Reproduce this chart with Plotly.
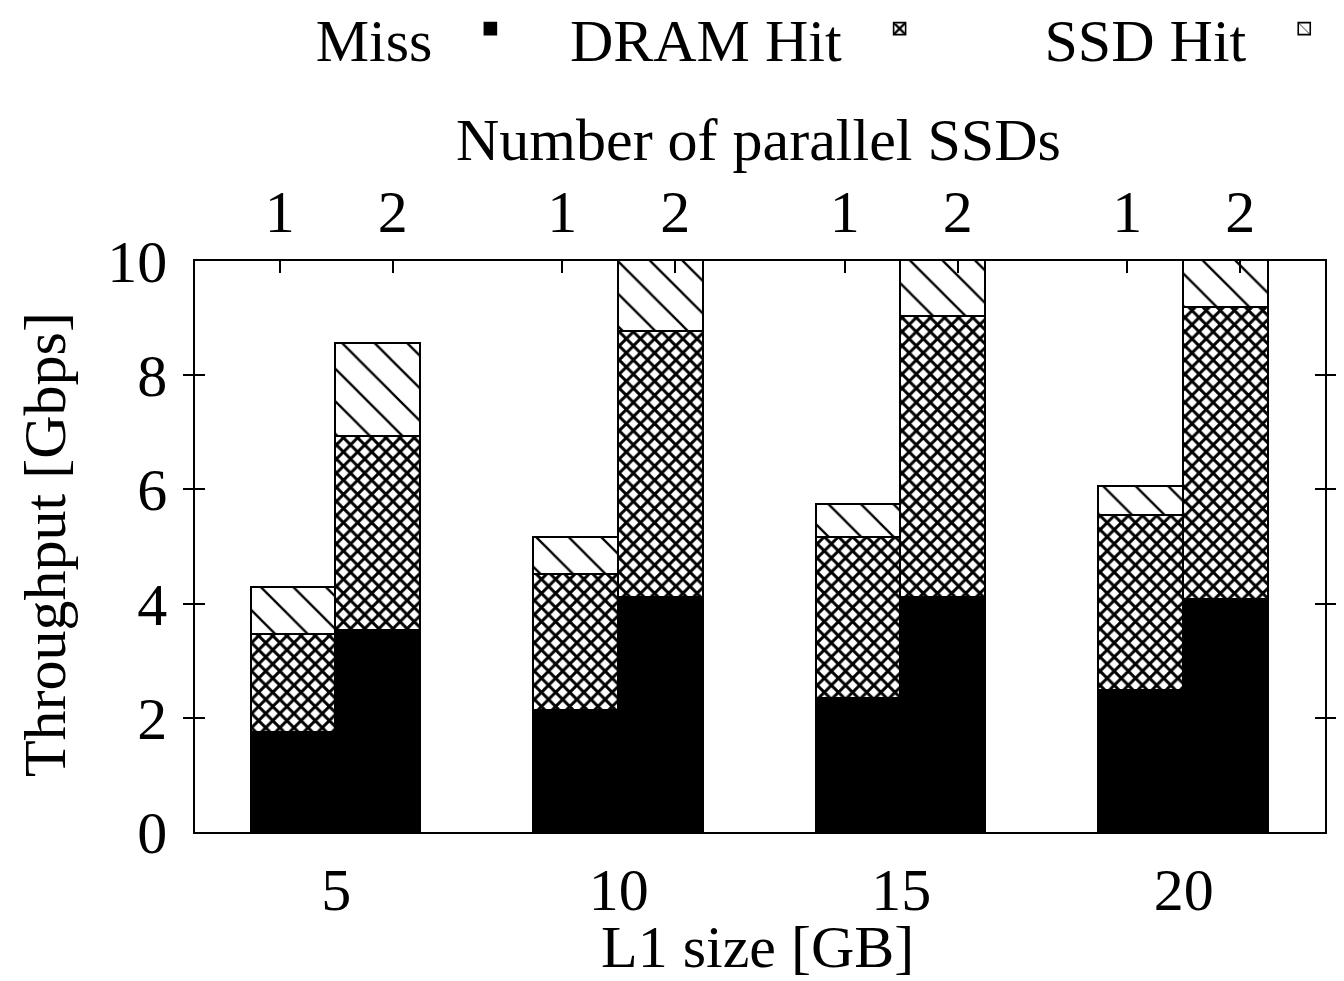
import plotly.graph_objects as go

# ---- data ----
l1_sizes = ["5", "10", "15", "20"]
ssd_counts = ["1", "2"]
# values per bar, ordered (5GB,1), (5GB,2), (10GB,1), (10GB,2), ...
miss = [1.73, 3.52, 2.12, 4.10, 2.33, 4.10, 2.47, 4.06]
dram_hit = [1.72, 3.40, 2.38, 4.66, 2.82, 4.92, 3.06, 5.12]
ssd_hit = [0.82, 1.63, 0.65, 1.50, 0.58, 1.40, 0.51, 1.30]

FONT = "Liberation Serif"
FS = 60

n_groups = len(l1_sizes)
n_sub = len(ssd_counts)
bar_w = 0.3
xs = []
top_tickvals = []
top_ticktext = []
for g in range(n_groups):
    for k in range(n_sub):
        xs.append(g + (k - (n_sub - 1) / 2) * bar_w)
        top_tickvals.append(g + (k - (n_sub - 1) / 2) * 0.4)
        top_ticktext.append(ssd_counts[k])

line = dict(color="black", width=1.6)
fig = go.Figure()
fig.add_trace(go.Bar(x=xs, y=miss, width=bar_w, name="", legend="legend",
                     marker=dict(color="black", line=line)))
fig.add_trace(go.Bar(x=xs, y=dram_hit, width=bar_w, name="", legend="legend2",
                     marker=dict(color="white", line=line,
                                 pattern=dict(shape="x", fgcolor="black", bgcolor="white",
                                              fgopacity=1, size=10, solidity=0.5))))
fig.add_trace(go.Bar(x=xs, y=ssd_hit, width=bar_w, name="", legend="legend3",
                     marker=dict(color="white", line=line,
                                 pattern=dict(shape="\\", fgcolor="black", bgcolor="white",
                                              fgopacity=1, size=23, solidity=0.1))))

tf = dict(family=FONT, size=FS, color="black")
axis_common = dict(showline=True, linecolor="black", linewidth=1.6,
                   tickfont=tf, showgrid=False, zeroline=False, automargin=False)

NB = "\u00a0"

def leg(title, x):
    return dict(x=x, y=0.979, xref="paper", yref="container",
                xanchor="left", yanchor="middle",
                orientation="h", bgcolor="rgba(0,0,0,0)",
                title=dict(text=title + NB * 2, side="left", font=tf),
                font=tf)

fig.update_layout(
    width=1344, height=981,
    # the page body adds an 8px offset; margins compensate for it
    margin=dict(l=187, r=27, t=253, b=157),
    paper_bgcolor="white", plot_bgcolor="white",
    barmode="stack", bargap=0,
    showlegend=True,
    legend=leg("Miss", 0.105),
    legend2=leg("DRAM Hit", 0.33),
    legend3=leg("SSD Hit", 0.75),
    xaxis=dict(**axis_common, range=[-0.5, n_groups - 0.5], mirror=False,
               tickvals=list(range(n_groups)), ticktext=l1_sizes, ticks="",
               ticklabelstandoff=4),
    xaxis2=dict(**axis_common, overlaying="x", side="top", matches="x",
                range=[-0.5, n_groups - 0.5],
                tickvals=top_tickvals, ticktext=top_ticktext,
                ticks="inside", ticklen=12, tickwidth=1.6, tickcolor="black",
                ticklabelstandoff=3),
    yaxis=dict(**axis_common, range=[0, 10], mirror="allticks",
               tickvals=[0, 2, 4, 6, 8, 10],
               ticks="inside", ticklen=10, tickwidth=1.6, tickcolor="black",
               ticklabelstandoff=14),
    annotations=[
        dict(text="Throughput [Gbps]", textangle=-90, x=-0.1327, y=0.5026,
             xref="paper", yref="paper", showarrow=False, font=tf,
             xanchor="center", yanchor="middle"),
        dict(text="Number of parallel SSDs", x=0.499, y=1.212,
             xref="paper", yref="paper", showarrow=False, font=tf,
             xanchor="center", yanchor="middle"),
        dict(text="L1 size [GB]", x=0.498, y=-0.2627,
             xref="paper", yref="paper", showarrow=False, font=tf,
             xanchor="center", yanchor="bottom"),
    ],
)
# invisible trace to activate the top axis
fig.add_trace(go.Scatter(x=[xs[0]], y=[0], xaxis="x2", mode="markers",
                         marker=dict(opacity=0), showlegend=False, hoverinfo="skip"))

fig.write_html("out.html")
